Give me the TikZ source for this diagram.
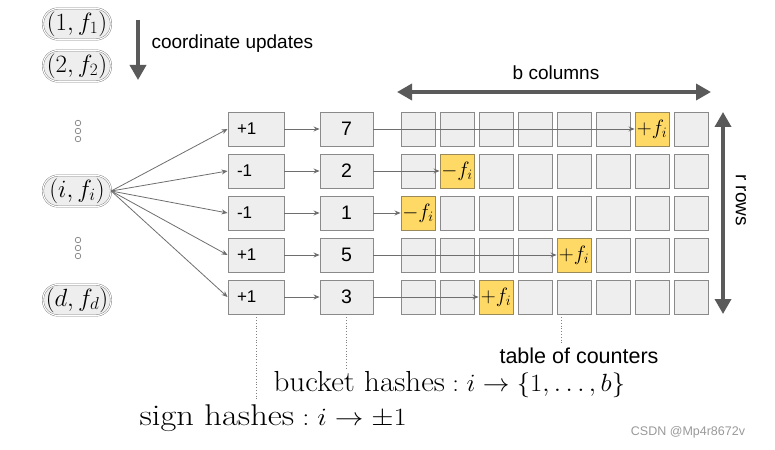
\documentclass[tikz,border=0pt]{standalone}
\usepackage{amsmath,amssymb}
\usepackage{fontspec}
\setsansfont{Liberation Sans}
\usetikzlibrary{arrows.meta,positioning,shapes.misc}

\definecolor{cellfill}{HTML}{EEEEEE}
\definecolor{celldraw}{HTML}{8A8A8A}
\definecolor{hitfill}{HTML}{FFD966}
\definecolor{hitdraw}{HTML}{9A8A5A}
\definecolor{arrowgray}{HTML}{5A5A5A}
\definecolor{thingray}{HTML}{6E6E6E}

\begin{document}
\begin{tikzpicture}[x=1pt,y=-1pt,>=Stealth,
  cell/.style={draw=celldraw,fill=cellfill,line width=0.9pt,minimum width=34pt,minimum height=34pt,inner sep=0pt},
  hit/.style={cell,fill=hitfill,draw=hitdraw,font=\fontsize{22.5}{24}\selectfont},
  signbox/.style={cell,minimum width=56pt,font=\sffamily\fontsize{17}{19}\selectfont},
  bucketbox/.style={cell,minimum width=53pt,font=\sffamily\fontsize{19.5}{21}\selectfont},
  pair/.style={rectangle,rounded corners=15pt,draw=gray!90!black,double=white,double distance=1.1pt,fill=cellfill,
    minimum width=68pt,minimum height=31pt,inner sep=0pt,font=\fontsize{27}{29}\selectfont},
  flow/.style={->,draw=thingray,line width=0.8pt,>={Stealth[length=6pt,width=5pt]}},
  bigarrow/.style={draw=arrowgray,line width=3.5pt,>={Triangle[length=15pt,width=16pt]}},
  label/.style={font=\sffamily\fontsize{19}{21}\selectfont},
  guide/.style={draw=gray,dotted,line width=0.8pt}]
\useasboundingbox (0,0) rectangle (775,449);

% coordinate updates
\node[pair] (p1) at (77,24) {$(1,f_1)$};
\node[pair] (p2) at (77,66) {$(2,f_2)$};
\node[pair] (pi) at (77,191) {$(i,f_i)$};
\node[pair] (pd) at (77,300) {$(d,f_d)$};
\foreach \y in {123,131,139,240,248,256}
  \draw[gray,line width=0.7pt] (78,\y) circle (2.8);
\coordinate (upd-a) at (138,20);
\coordinate (upd-b) at (138,80);
\draw[bigarrow,->] (upd-a) -- (upd-b);
\node[label,anchor=west] (upd) at (148,44) {coordinate updates};

% hashes and table of counters
\foreach \r/\sg/\bk/\op in {1/+1/7/+,2/-1/2/-,3/-1/1/-,4/+1/5/+,5/+1/3/+}{
  \node[signbox,text width=38pt] (s\r) at (256,129+42*\r-42) {\sg};
  \node[bucketbox] (h\r) at (346.5,129+42*\r-42) {\bk};
  \foreach \c in {1,...,8}{
    \ifnum\c=\bk\relax
      \node[hit] (c\r-\c) at (418+39*\c-39,129+42*\r-42) {$\op f_i$};
    \else
      \node[cell] (c\r-\c) at (418+39*\c-39,129+42*\r-42) {};
    \fi
  }
  \draw[flow] (pi.east) -- (s\r.west);
  \draw[flow] (s\r) -- (h\r);
  \draw[flow] (h\r) -- (c\r-\bk);
}

% table dimensions
\coordinate (bcol-l) at (397,92);
\coordinate (bcol-r) at (711,92);
\draw[bigarrow,<->] (bcol-l) -- (bcol-r);
\node[label] (bcol) at (556,73) {b columns};
\coordinate (rrow-t) at (723,112);
\coordinate (rrow-b) at (723,314);
\draw[bigarrow,<->] (rrow-t) -- (rrow-b);
\node[label,rotate=-90] (rrow) at (741,200) {r rows};

% captions
\node[font=\sffamily\fontsize{21.5}{23}\selectfont] (tab) at (579,356) {table of counters};
\node[font=\fontsize{29}{31}\selectfont,anchor=west] (bh) at (270,385)
  {\scalebox{1.07}[1]{$\text{bucket hashes}: i \to \{1,\ldots,b\}$}};
\node[font=\fontsize{30}{32}\selectfont,anchor=west] (sh) at (136,418)
  {\scalebox{1.15}[1]{$\text{sign hashes}: i \to \pm 1$}};
\coordinate (tab-g) at (561,343);
\draw[guide] (s5.south) -- (s5.south |- sh.north);
\draw[guide] (h5.south) -- (h5.south |- bh.north);
\draw[guide] (tab-g |- c5-5.south) -- (tab-g);
\node[font=\sffamily\fontsize{12.5}{14}\selectfont,text=gray!80] (mark) at (688,432) {CSDN @Mp4r8672v};
\end{tikzpicture}
\end{document}
